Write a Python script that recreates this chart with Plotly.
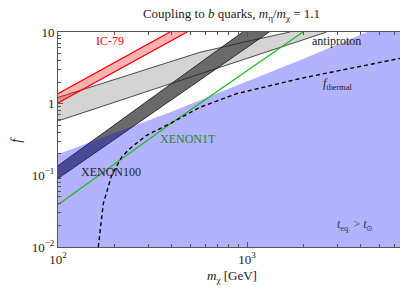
import plotly.graph_objects as go

# ---- data ----
teq_m = [100, 392, 1905, 4365, 7000]
teq_f = [0.197, 0.757, 4.03, 10, 17]

ic79_upper_m = [100, 391.5]
ic79_upper_f = [1.38, 10]
ic79_lower_m = [100, 482]
ic79_lower_f = [1.02, 10]

pbar_upper_m = [100, 307, 564, 1038, 1690]
pbar_upper_f = [1.22, 3.17, 5.21, 7.54, 10]
pbar_lower_m = [100, 2641]
pbar_lower_f = [0.574, 10]

x100_upper_m = [100, 948]
x100_upper_f = [0.136, 10]
x100_lower_m = [100, 1312]
x100_lower_f = [0.0902, 10]

x1t_m = [100, 392, 1978]
x1t_f = [0.039, 0.52, 10]

thermal_m = [163.4, 173.7, 192.3, 217.3, 245.5, 294.6, 391.5, 564, 882, 1905, 7000]
thermal_f = [0.01, 0.0404, 0.100, 0.181, 0.249, 0.362, 0.527, 0.891, 1.38, 2.24, 4.48]

x_tickvals = [100, 1000]
x_ticktext = ["10<sup>2</sup>", "10<sup>3</sup>"]
y_tickvals = [0.01, 0.1, 1, 10]
y_ticktext = ["10<sup>−2</sup>", "10<sup>−1</sup>", "1", "10"]
x_minor = [200, 300, 400, 500, 600, 700, 800, 900, 2000, 3000, 4000, 5000, 6000]
y_minor = [d * k for d in (0.01, 0.1, 1) for k in range(2, 10)]

FONT = "Liberation Serif"
fig = go.Figure()

def band(um, uf, lm, lf, fill, name):
    fig.add_trace(go.Scatter(x=um + lm[::-1], y=uf + lf[::-1], mode="lines",
                             fill="toself", fillcolor=fill, line=dict(width=0),
                             hoverinfo="skip", showlegend=False, name=name))

def line(m, f, color, width, dash="solid"):
    fig.add_trace(go.Scatter(x=m, y=f, mode="lines", line=dict(color=color, width=width, dash=dash),
                             hoverinfo="skip", showlegend=False))

# antiproton band
band(pbar_upper_m, pbar_upper_f, pbar_lower_m, pbar_lower_f, "rgb(212,212,212)", "antiproton")
# XENON100 band
band(x100_upper_m, x100_upper_f, x100_lower_m, x100_lower_f, "rgb(105,105,105)", "XENON100")
line(x100_upper_m, x100_upper_f, "#111", 0.8)
line(x100_lower_m, x100_lower_f, "#111", 0.8)
line(pbar_upper_m, pbar_upper_f, "#222", 0.8)
line(pbar_lower_m, pbar_lower_f, "#222", 0.8)
# IC-79 band
band(ic79_upper_m, ic79_upper_f, ic79_lower_m, ic79_lower_f, "rgba(255,0,0,0.3)", "IC-79")
line(ic79_upper_m, ic79_upper_f, "red", 1.3)
line(ic79_lower_m, ic79_lower_f, "red", 1.3)
# t_eq > t_sun region
fig.add_trace(go.Scatter(x=teq_m + [teq_m[-1], teq_m[0]], y=teq_f + [0.001, 0.001], mode="lines",
                         fill="toself", fillcolor="rgba(0,0,255,0.3)", line=dict(width=0),
                         hoverinfo="skip", showlegend=False))
# XENON1T
line(x1t_m, x1t_f, "rgb(20,190,20)", 1.2)
# f_thermal
line(thermal_m, thermal_f, "black", 1.4, dash="4px,3px")

def label(text, x, y, color, size=12):
    fig.add_annotation(text=text, x=x, y=y, xref="paper", yref="paper", showarrow=False,
                       font=dict(family=FONT, size=size, color=color), xanchor="center", yanchor="middle")

label("IC-79", 0.150, 0.958, "red")
label("antiproton", 0.804, 0.957, "#222")
label("<i>f</i><sub>thermal</sub>", 0.807, 0.757, "#222")
label("XENON1T", 0.375, 0.501, "rgb(40,130,40)")
label("XENON100", 0.153, 0.347, "#222")
label("<i>t</i><sub>eq.</sub> > <i>t</i><sub>⊙</sub>", 0.856, 0.101, "#333355")
label("<i>m</i><sub>χ</sub> [GeV]", 0.5, -0.135, "#222", 13)
fig.add_annotation(text="<i>f</i>", x=-0.148, y=0.5, xref="paper", yref="paper", showarrow=False,
                   textangle=-90, font=dict(family=FONT, size=14, color="#222"))

axis_common = dict(showline=True, linecolor="#555", linewidth=1, mirror="allticks", automargin=False,
                   ticks="inside", ticklen=5, tickcolor="#555", showgrid=False, zeroline=False,
                   tickfont=dict(family=FONT, size=13, color="#222"))

fig.update_xaxes(type="log", range=[2, 3.836], tickmode="array", tickvals=x_tickvals, ticktext=x_ticktext,
                 minor=dict(tickmode="array", tickvals=x_minor, ticks="inside", ticklen=3, tickcolor="#555"),
                 **axis_common)
fig.update_yaxes(type="log", range=[-2, 1], tickmode="array", tickvals=y_tickvals, ticktext=y_ticktext,
                 minor=dict(tickmode="array", tickvals=y_minor, ticks="inside", ticklen=3, tickcolor="#555"),
                 **axis_common)

# The page body adds an 8px offset, so the figure is sized 8px smaller and margins shifted.
fig.update_layout(
    width=400, height=283,
    margin=dict(l=50, r=3, t=23.7, b=44.3),
    paper_bgcolor="white", plot_bgcolor="white",
    title=dict(text="Coupling to <i>b</i> quarks, <i>m</i><sub>η</sub>/<i>m</i><sub>χ</sub> = 1.1",
               x=0.5, xref="paper", y=1 - 5.5 / 283, yanchor="middle",
               font=dict(family=FONT, size=13, color="#222")),
)

fig.write_html("out.html")
